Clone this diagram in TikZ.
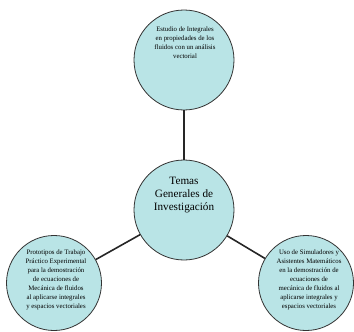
\documentclass[tikz,border=0pt]{standalone}
\usepackage{fontspec}
\setmainfont{Liberation Serif}
\definecolor{bub}{HTML}{B9E4E6}
\definecolor{rim}{HTML}{333333}
\begin{document}
\begin{tikzpicture}[x=1pt,y=-1pt,
  bubble/.style={circle,draw=rim,line width=0.8pt,fill=bub,inner sep=0pt},
  small/.style={align=center,font=\fontsize{6.8}{9.1}\selectfont,inner sep=0pt},
  big/.style={align=center,font=\fontsize{11.2}{13}\selectfont,inner sep=0pt},
  link/.style={line width=1.6pt,draw=black!85}]
\useasboundingbox (0,0) rectangle (354,332);
\node[bubble,minimum size=100pt] (top) at (184,60) {};
\node[bubble,minimum size=100pt] (mid) at (184,210) {};
\node[bubble,minimum size=95pt] (lft) at (54,283) {};
\node[bubble,minimum size=95pt] (rgt) at (306,283) {};
\draw[link] (top) -- (mid);
\draw[link] (mid) -- (lft);
\draw[link] (mid) -- (rgt);
\node[small] (ttop) at (185,43) {Estudio de Integrales\\en propiedades de los\\fluidos con un análisis\\vectorial};
\node[big] (tmid) at (184,195) {Temas\\Generales de\\Investigación};
\node[small] (tlft) at (56,280) {Prototipos de Trabajo\\Práctico Experimental\\para la demostración\\de ecuaciones de\\Mecánica de fluidos\\al aplicarse integrales\\y espacios vectoriales};
\node[small] (trgt) at (309,280) {Uso de Simuladores y\\Asistentes Matemáticos\\en la demostración de\\ecuaciones de\\mecánica de fluidos al\\aplicarse integrales y\\espacios vectoriales};
\end{tikzpicture}
\end{document}
